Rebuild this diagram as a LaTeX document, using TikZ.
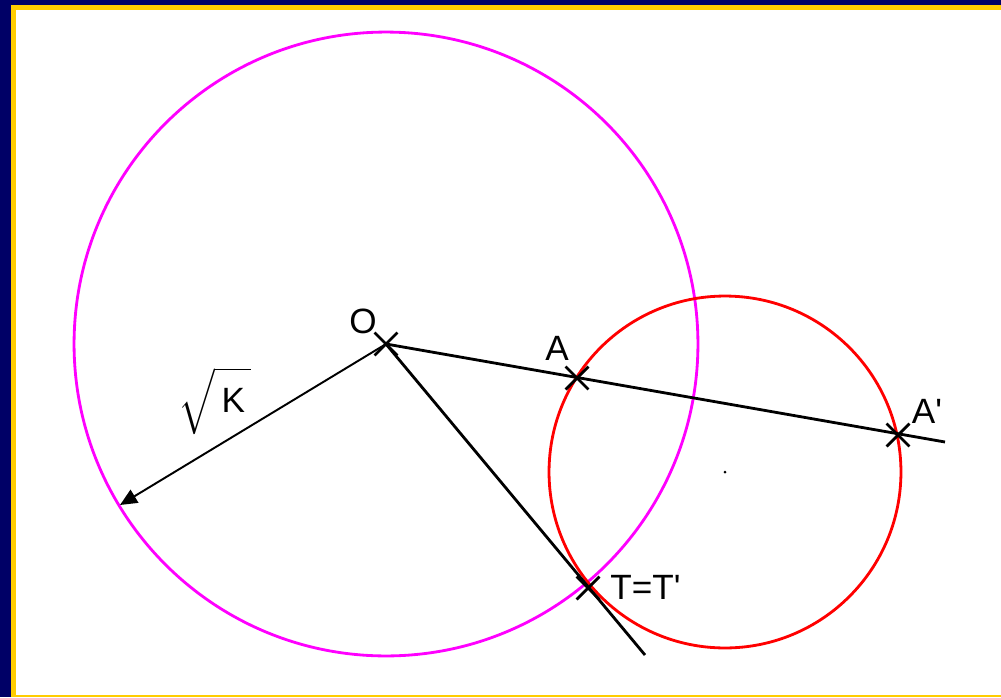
\documentclass[tikz,border=0pt]{standalone}
\usepackage{amsmath}
\usepackage{fontspec}
\setmainfont{Liberation Sans}
\usepackage{tikz}
\usetikzlibrary{arrows.meta,shapes.misc,calc}
\definecolor{INVnavy}{RGB}{0,0,102}
\definecolor{INVgold}{RGB}{255,204,0}
\definecolor{INVmag}{RGB}{255,0,255}
\definecolor{INVred}{RGB}{255,0,0}
\tikzstyle{ptmark} = [cross out, draw=black, line width=1.6pt,
                      minimum size=0.4cm, inner sep=0pt]
\tikzstyle{plabel} = [inner sep=0pt, font=\fontsize{20}{24}\selectfont]
\tikzstyle{geoline} = [line width=1.6pt]

\begin{document}
\begin{tikzpicture}[x=0.02cm, y=-0.02cm]
  \useasboundingbox (0,0) rectangle (1001,697);
  % frame
  \fill[white] (0,0) rectangle (1001,697);
  \fill[INVnavy] (0,0) rectangle (1001,4.5);
  \fill[INVnavy] (0,0) rectangle (11,697);
  \fill[INVgold] (11,4.5) rectangle (1001,10);
  \fill[INVgold] (11,4.5) rectangle (16,697);
  \fill[INVgold] (11,694.5) rectangle (1001,697);

  % circles
  \coordinate (O) at (386,344);
  \coordinate (C) at (725,472);
  \draw[INVmag, geoline] (O) circle[radius=6.24cm];
  \draw[INVred, geoline] (C) circle[radius=3.52cm];
  \fill (C) circle[radius=0.03cm];

  % lines through O
  \coordinate (endA) at (945,442);
  \coordinate (endT) at (645,655);
  \coordinate (rad) at (120,505);
  \draw[geoline] (O) -- (endA);
  \draw[geoline] (O) -- (endT);
  \draw[line width=1.1pt, -{Triangle[length=0.34cm, width=0.3cm]}] (O) -- (rad);

  % points
  \node[ptmark] (ptO) at (O) {};
  \node[ptmark] (ptA) at (577,378) {};
  \node[ptmark] (ptAp) at (898,435) {};
  \node[ptmark] (ptT) at (588,588) {};

  % labels
  \node[plabel] (lblO) at (363,321) {O};
  \node[plabel] (lblA) at (557,348) {A};
  \node[plabel] (lblAp) at (927,411) {A\textquotesingle};
  \node[plabel, anchor=west] (lblT) at (610,587) {T=T\textquotesingle};
  \node[plabel] (lblK) at (215,401) {$\sqrt{\vphantom{\big(}\,\text{K}\,}$};
\end{tikzpicture}
\end{document}
